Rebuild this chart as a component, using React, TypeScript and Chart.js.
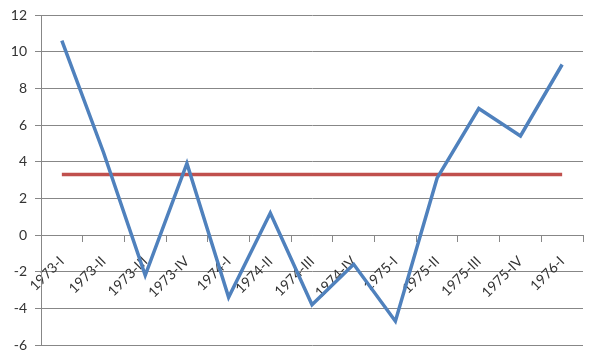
import React, { useEffect, useRef } from "react";
import { Chart, registerables } from "chart.js";

Chart.register(...registerables);

const categories = ["1973-I", "1973-II", "1973-III", "1973-IV", "1974-I", "1974-II", "1974-III", "1974-IV", "1975-I", "1975-II", "1975-III", "1975-IV", "1976-I"];
const seriesValues = [10.6, 4.5, -2.2, 3.9, -3.4, 1.2, -3.8, -1.6, -4.7, 3.1, 6.9, 5.4, 9.3];
const referenceValues = [3.3, 3.3, 3.3, 3.3, 3.3, 3.3, 3.3, 3.3, 3.3, 3.3, 3.3, 3.3, 3.3];
const yMin = -6;
const yMax = 12;
const yStep = 2;

export default function App() {
  const ref = useRef<HTMLCanvasElement | null>(null);
  useEffect(() => {
    document.body.style.margin = "0";
    const ctx = ref.current!;
    const chart = new Chart(ctx, {
      type: "line",
      data: {
        labels: categories,
        datasets: [
          {
            data: seriesValues,
            borderColor: "#4F81BD",
            borderWidth: 3.5,
            pointRadius: 0,
            tension: 0,
            fill: false,
            order: 1,
          },
          {
            data: referenceValues,
            borderColor: "#C0504D",
            borderWidth: 3.5,
            pointRadius: 0,
            tension: 0,
            fill: false,
            order: 2,
          },
        ],
      },
      options: {
        animation: false,
        responsive: false,
        layout: { padding: { top: 15, right: 17, bottom: 14, left: 0 } },
        plugins: { legend: { display: false }, tooltip: { enabled: false } },
        scales: {
          x: {
            position: { y: 0 },
            offset: true,
            grid: {
              display: true,
              drawOnChartArea: false,
              drawTicks: true,
              offset: true,
              tickLength: 6,
              color: "#878787",
            },
            border: { display: true, color: "#878787", width: 1 },
            ticks: {
              autoSkip: false,
              minRotation: 45,
              maxRotation: 45,
              padding: 12,
              color: "#333333",
              font: { family: "Lato", size: 14 },
            },
          },
          y: {
            min: yMin,
            max: yMax,
            afterFit: (scale: any) => {
              scale.width = 41;
            },
            grid: { color: "#878787", tickLength: 6 },
            border: { display: true, color: "#878787" },
            ticks: {
              stepSize: yStep,
              padding: 8,
              color: "#333333",
              font: { family: "Lato", size: 14, lineHeight: 0.1 },
            },
          },
        },
      },
    });
    return () => chart.destroy();
  }, []);
  return <canvas ref={ref} width={600} height={359} style={{ display: "block" }} />;
}
